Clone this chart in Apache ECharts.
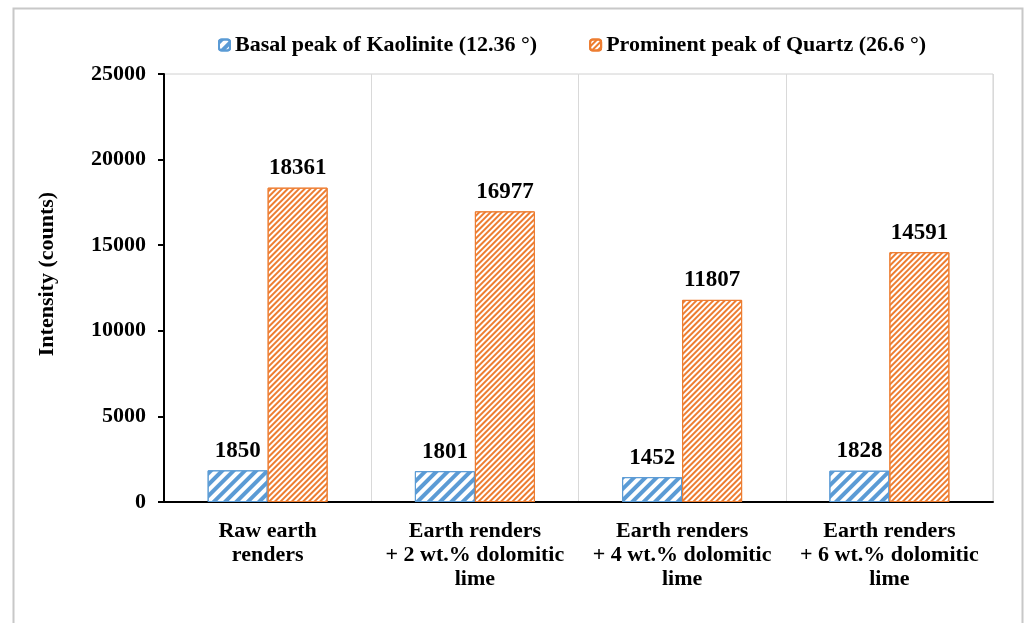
<!DOCTYPE html>
<html><head><meta charset="utf-8">
<script src="https://cdn.jsdelivr.net/npm/echarts@6/dist/echarts.min.js"></script>
<style>html,body{margin:0;padding:0;background:#fff}#c{width:1027px;height:623px}</style>
</head><body><div id="c"></div>
<script>
const categories = ['Raw earth\nrenders', 'Earth renders\n+ 2 wt.% dolomitic\nlime', 'Earth renders\n+ 4 wt.% dolomitic\nlime', 'Earth renders\n+ 6 wt.% dolomitic\nlime'];
const kaolinite = [1850, 1801, 1452, 1828];
const quartz = [18361, 16977, 11807, 14591];
const seriesNames = ['Basal peak of Kaolinite (12.36 °)', 'Prominent peak of Quartz (26.6 °)'];
const yTicks = [0, 5000, 10000, 15000, 20000, 25000];

const FONT = '"Liberation Serif", "Times New Roman", serif';
const BLUE = '#5B9BD5', ORANGE = '#ED7D31';
const chart = echarts.init(document.getElementById('c'), null, {renderer: 'canvas'});
chart.setOption({
  animation: false,
  aria: {enabled: true, decal: {show: true}},
  graphic: [{type: 'rect', shape: {x: 13.5, y: 8.5, width: 1009, height: 640}, style: {fill: null, stroke: '#c8c8c8', lineWidth: 2}, z: -1}],
  legend: {
    top: 29, left: 213, itemWidth: 11, itemHeight: 11, itemGap: 52,
    textStyle: {fontFamily: FONT, fontWeight: 'bold', fontSize: 22, color: '#000'},
    data: seriesNames
  },
  grid: {left: 164, right: 34, top: 74, bottom: 121, show: true, borderColor: '#d0d0d0', borderWidth: 1},
  xAxis: {
    type: 'category', data: categories,
    axisLine: {lineStyle: {color: '#000', width: 2}},
    axisTick: {show: false},
    splitLine: {show: true, lineStyle: {color: '#d9d9d9', width: 1}},
    axisLabel: {fontFamily: FONT, fontWeight: 'bold', fontSize: 22, color: '#000', lineHeight: 24, margin: 17, interval: 0}
  },
  yAxis: {
    type: 'value', min: yTicks[0], max: yTicks[yTicks.length - 1], interval: 5000,
    name: 'Intensity (counts)', nameLocation: 'middle', nameGap: 106,
    nameTextStyle: {fontFamily: FONT, fontWeight: 'bold', fontSize: 22, color: '#000', padding: [0, 0, 0, 28]},
    axisLine: {show: true, lineStyle: {color: '#000', width: 2}},
    axisTick: {show: true, length: 6, lineStyle: {color: '#000', width: 2}},
    splitLine: {show: false},
    axisLabel: {fontFamily: FONT, fontWeight: 'bold', fontSize: 22, color: '#000', margin: 18, formatter: v => String(v)}
  },
  series: [
    {
      name: seriesNames[0], type: 'bar', data: kaolinite, barWidth: 60, barGap: '0%',
      itemStyle: {color: '#fff', borderColor: BLUE, borderWidth: 1,
        decal: {symbol: 'rect', color: BLUE, dashArrayX: [1, 0], dashArrayY: [4, 4], rotation: -Math.PI / 4, symbolSize: 1}},
      label: {show: true, position: 'top', distance: 8, fontFamily: FONT, fontWeight: 'bold', fontSize: 23, color: '#000'}
    },
    {
      name: seriesNames[1], type: 'bar', data: quartz, barWidth: 60,
      itemStyle: {color: '#fff', borderColor: ORANGE, borderWidth: 1,
        decal: {symbol: 'rect', color: ORANGE, dashArrayX: [1, 0], dashArrayY: [2, 2], rotation: -Math.PI / 4, symbolSize: 1}},
      label: {show: true, position: 'top', distance: 8, fontFamily: FONT, fontWeight: 'bold', fontSize: 23, color: '#000'}
    }
  ]
});
</script></body></html>
